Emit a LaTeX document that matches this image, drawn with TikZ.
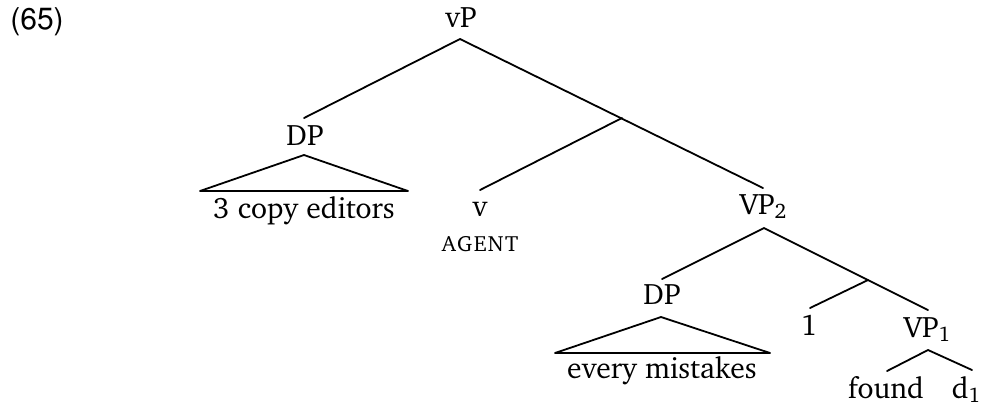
\documentclass[tikz,border=0pt]{standalone}
\usepackage[T1]{fontenc}
\usepackage{charter}
% lowered index digit set in the text face
\newcommand\lowsub[1]{\raisebox{-0.3ex}{\fontsize{10.5}{10}\selectfont #1}}
\begin{document}
\begin{tikzpicture}[x=0.5pt,y=-0.5pt,
  lab/.style={inner sep=0pt,anchor=base,font=\fontsize{14.8}{16}\selectfont},
  feat/.style={inner sep=0pt,anchor=base,font=\fontsize{11}{12}\selectfont},
  branch/.style={line width=0.9pt,line cap=round,line join=round},
  roof/.style={line width=0.9pt,line join=round}]
\useasboundingbox (0,0) rectangle (983,404);

% example number
\node[inner sep=0pt,anchor=base,font=\fontsize{15}{16}\fontfamily{phv}\selectfont] (ex) at (37,29) {(65)};

% labels
\node[lab] (vP)   at (461,27)  {vP};
\node[lab] (DPa)  at (305,145) {DP};
\node[lab] (ce)   at (304,218) {3 copy editors};
\node[lab] (v)    at (480,216) {v};
\node[feat] (ag)  at (480,251) {A\kern0.7ptG\kern0.7ptE\kern0.7ptN\kern0.7ptT};
\node[lab] (VPb)  at (763,214) {VP\lowsub{2}};
\node[lab] (DPb)  at (662,304) {DP};
\node[lab] (em)   at (662,378) {every mistakes};
\node[lab] (one)  at (809,335) {1};
\node[lab] (VPa)  at (927,337) {VP\lowsub{1}};
\node[lab] (fd)   at (886,398) {found};
\node[lab] (dd)   at (966,398) {d\lowsub{1}};

% branch points
\coordinate (vPtop)  at (460,39);
\coordinate (vPl)    at (304,118);
\coordinate (vPbar)  at (622,118);
\coordinate (vlow)   at (480,190);
\coordinate (vPr)    at (763,188);
\coordinate (DPaTop) at (304,155);
\coordinate (DPaL)   at (200,191);
\coordinate (DPaR)   at (408,191);
\coordinate (VPbTop) at (764,228);
\coordinate (VPbL)   at (662,279);
\coordinate (VPbBar) at (868,280);
\coordinate (VPbR)   at (928,310);
\coordinate (onelow) at (810,308);
\coordinate (DPbTop) at (661,317);
\coordinate (DPbL)   at (555,353);
\coordinate (DPbR)   at (770,353);
\coordinate (VPaTop) at (928,350);
\coordinate (VPaL)   at (887,371);
\coordinate (VPaR)   at (972,370);

% branches
\draw[branch] (vPl) -- (vPtop) -- (vPr);
\draw[branch] (vPbar) -- (vlow);
\draw[roof] (DPaTop) -- (DPaL) -- (DPaR) -- cycle;
\draw[branch] (VPbL) -- (VPbTop) -- (VPbR);
\draw[branch] (VPbBar) -- (onelow);
\draw[roof] (DPbTop) -- (DPbL) -- (DPbR) -- cycle;
\draw[branch] (VPaL) -- (VPaTop) -- (VPaR);
\end{tikzpicture}
\end{document}
